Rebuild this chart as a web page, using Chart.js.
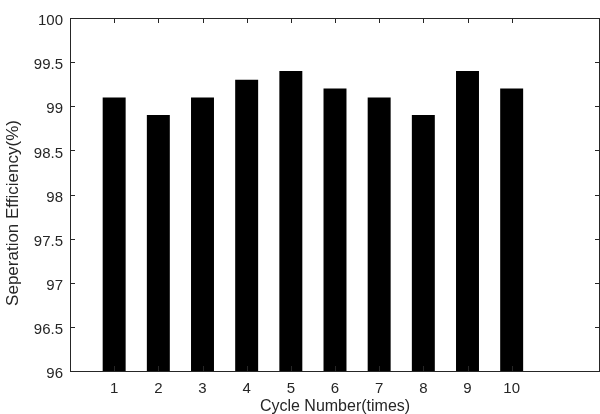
<!DOCTYPE html>
<html>
<head>
<meta charset="utf-8">
<script src="https://cdn.jsdelivr.net/npm/chart.js@4"></script>
<style>
  html, body { margin: 0; padding: 0; background: #fff; }
  #wrap { width: 600px; height: 414px; }
</style>
</head>
<body>
<div id="wrap"><canvas id="c"></canvas></div>
<script>
const cycles = [1, 2, 3, 4, 5, 6, 7, 8, 9, 10];
const efficiency = [99.1, 98.9, 99.1, 99.3, 99.4, 99.2, 99.1, 98.9, 99.4, 99.2];
const yTicks = [96, 96.5, 97, 97.5, 98, 98.5, 99, 99.5, 100];
const xTitle = 'Cycle Number(times)';
const yTitle = 'Seperation Efficiency(%)';

const axisColor = '#262626';
const family = 'Liberation Sans, Arial, sans-serif';
const tickFont = { family, size: 15 };

// MATLAB style box with inward ticks on all four sides, plus the y title
const boxPlugin = {
  id: 'box',
  afterDraw(chart) {
    const { ctx, chartArea: a, scales: { x, y } } = chart;
    const len = 5;
    ctx.save();
    ctx.strokeStyle = axisColor;
    ctx.lineWidth = 1;
    ctx.beginPath();
    cycles.forEach(v => {
      const px = Math.round(x.getPixelForValue(v)) + 0.5;
      ctx.moveTo(px, a.bottom); ctx.lineTo(px, a.bottom - len);
      ctx.moveTo(px, a.top); ctx.lineTo(px, a.top + len);
    });
    yTicks.forEach(v => {
      const py = Math.round(y.getPixelForValue(v)) + 0.5;
      ctx.moveTo(a.left, py); ctx.lineTo(a.left + len, py);
      ctx.moveTo(a.right, py); ctx.lineTo(a.right - len, py);
    });
    ctx.stroke();
    ctx.strokeRect(Math.round(a.left) + 0.5, Math.round(a.top) + 0.5,
      Math.round(a.right - a.left) - 1, Math.round(a.bottom - a.top));

    // y title sits a bit below the middle in the original
    ctx.translate(13, 213);
    ctx.rotate(-Math.PI / 2);
    ctx.fillStyle = axisColor;
    ctx.font = `17px ${family}`;
    ctx.textAlign = 'center';
    ctx.textBaseline = 'middle';
    ctx.fillText(yTitle, 0, 0);
    ctx.restore();
  }
};

new Chart(document.getElementById('c'), {
  type: 'bar',
  data: {
    datasets: [{
      data: cycles.map((c, i) => ({ x: c, y: efficiency[i] })),
      backgroundColor: '#000',
      borderWidth: 0,
      barPercentage: 0.52,
      categoryPercentage: 1
    }]
  },
  options: {
    responsive: true,
    maintainAspectRatio: false,
    animation: false,
    layout: { padding: { top: 18, right: 0, left: 0, bottom: 0 } },
    plugins: { legend: { display: false }, tooltip: { enabled: false } },
    scales: {
      x: {
        type: 'linear',
        offset: false,
        min: 0, max: 12,
        afterFit: s => { s.height = 43; },
        afterBuildTicks: s => { s.ticks = cycles.map(v => ({ value: v })); },
        grid: { display: false, drawTicks: false },
        border: { display: false },
        ticks: { color: axisColor, font: tickFont, padding: 9, autoSkip: false, maxRotation: 0, callback: v => `${v}` },
        title: { display: true, text: xTitle, color: axisColor, font: { family, size: 16 }, padding: { top: 0, bottom: -2 } }
      },
      y: {
        min: 96, max: 100,
        afterFit: s => { s.width = 70; },
        afterBuildTicks: s => { s.ticks = yTicks.map(v => ({ value: v })); },
        grid: { display: false, drawTicks: false },
        border: { display: false },
        ticks: { color: axisColor, font: tickFont, padding: 7, labelOffset: 3, callback: v => `${v}` }
      }
    }
  },
  plugins: [boxPlugin]
});
</script>
</body>
</html>
